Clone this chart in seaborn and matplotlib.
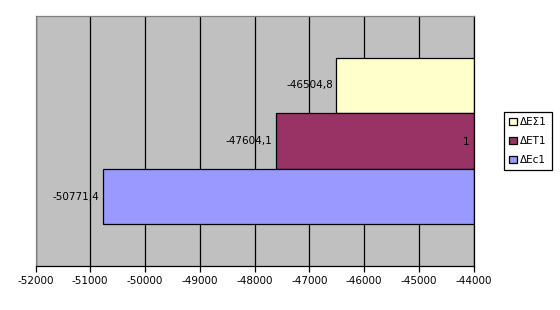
import matplotlib
matplotlib.use("Agg")
import matplotlib.pyplot as plt
import seaborn as sns
import pandas as pd
from matplotlib.ticker import FuncFormatter, MultipleLocator

# Data
series = ["ΔEΣ1", "ΔET1", "ΔEc1"]
values = [-46504.8, -47604.1, -50771.4]
category = ["1"]
base = -44000  # value axis crosses here (bars grow leftwards from it)
colors = ["#FFFFCC", "#993366", "#9999FF"]

df = pd.DataFrame({
    "series": series,
    "offset": [v - base for v in values],
    "cat": category * len(series),
})

sns.set_theme(style="white")
plt.rcParams["font.family"] = ["DejaVu Sans"]
plt.rcParams["text.color"] = "black"
plt.rcParams["xtick.color"] = "black"
plt.rcParams["ytick.color"] = "black"

fig = plt.figure(figsize=(5.6, 3.1), dpi=100)
ax = fig.add_axes([35.5 / 560, 1 - 266 / 310, (473.5 - 35.5) / 560, 250 / 310])

sns.barplot(data=df, x="offset", y="cat", hue="series", hue_order=series,
            palette=colors, orient="h", ax=ax, edgecolor="black", linewidth=0.9,
            width=0.8, legend=True, saturation=1)

ax.set_facecolor("#C0C0C0")
ax.set_xlim(-8000, 0)
ax.set_ylim(0.6, -0.6)
ax.xaxis.set_major_locator(MultipleLocator(1000))
ax.xaxis.set_major_formatter(FuncFormatter(lambda v, p: f"{v + base:.0f}"))
ax.grid(axis="x", color="black", linewidth=0.9)
ax.set_axisbelow(True)
ax.set_xlabel("")
ax.set_ylabel("")
ax.set_yticks([])
ax.tick_params(axis="x", bottom=True, direction="out", length=4, width=0.9,
               color="black", labelsize=7.5, pad=3, labelcolor="black")

for side in ["left", "top"]:
    ax.spines[side].set_color("#808080")
    ax.spines[side].set_linewidth(0.9)
for side in ["right", "bottom"]:
    ax.spines[side].set_color("black")
    ax.spines[side].set_linewidth(0.9)

for cont, v in zip(ax.containers, values):
    ax.bar_label(cont, labels=[f"{v:.1f}".replace(".", ",")], padding=2.5,
                 fontsize=7.5, color="black")

ax.legend(loc="upper left", bbox_to_anchor=(504 / 560, 1 - 112 / 310),
          bbox_transform=fig.transFigure, frameon=True, fancybox=False,
          edgecolor="black", facecolor="white", framealpha=1, fontsize=7.5,
          handlelength=0.7, handleheight=0.7, handletextpad=0.35,
          labelspacing=0.85, borderpad=0.5, borderaxespad=0)
ax.get_legend().get_frame().set_linewidth(0.9)

# Category axis sits at the right (crossing at -44000), label drawn inside
ax2 = ax.twinx()
ax2.set_ylim(ax.get_ylim())
ax2.set_yticks([0])
ax2.set_yticklabels(category)
ax2.tick_params(axis="y", left=False, right=False, labelleft=False,
                labelright=True, pad=-14, labelsize=7.5, labelcolor="black")
for s in ax2.spines.values():
    s.set_visible(False)
ax2.patch.set_visible(False)

fig.savefig("out.png", dpi=100, facecolor="white")
